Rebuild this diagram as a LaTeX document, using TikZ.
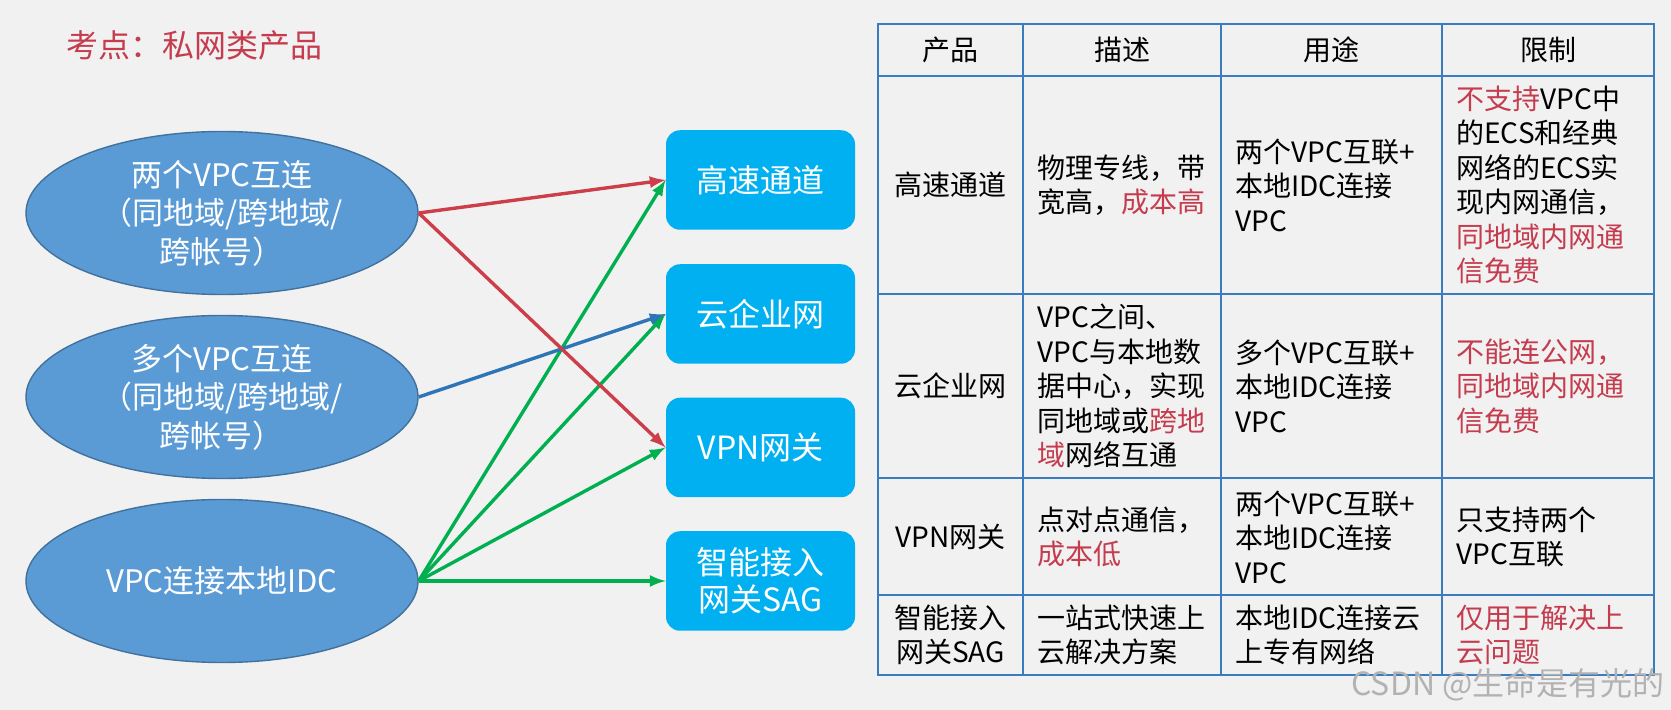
\documentclass[tikz,border=0pt]{standalone}
\usepackage{fontspec}
\setmainfont{Noto Sans CJK SC}
\usepackage{tikz}
\usetikzlibrary{shapes.geometric}
\usetikzlibrary{positioning}

\definecolor{pagebg}{RGB}{241,241,241}
\definecolor{ovalblue}{RGB}{91,155,213}
\definecolor{ovaledge}{RGB}{65,113,156}
\definecolor{boxblue}{RGB}{0,176,240}
\definecolor{keyred}{RGB}{196,60,78}
\definecolor{linkred}{RGB}{204,62,74}
\definecolor{linkblue}{RGB}{46,117,182}
\definecolor{linkgreen}{RGB}{0,176,80}
\definecolor{gridblue}{RGB}{58,124,192}
\newcommand{\hot}[1]{\textcolor{keyred}{#1}}

\tikzset{
  vpc/.style = {ellipse, fill=ovalblue, draw=ovaledge, line width=0.7pt,
    minimum width=196pt, minimum height=81.5pt, inner sep=0pt, text=white,
    align=center, font=\fontsize{15.5}{19.25}\selectfont},
  prod/.style = {rectangle, rounded corners=7pt, fill=boxblue,
    minimum width=94.5pt, minimum height=49.75pt, text=white,
    align=center, font=\fontsize{16}{18.5}\selectfont},
  link/.style = {-latex, line width=1.7pt},
  cellc/.style = {align=center, inner sep=0pt, font=\fontsize{14}{17.25}\selectfont},
  celll/.style = {anchor=west, align=left, inner sep=0pt, font=\fontsize{14}{17.25}\selectfont}
}

\begin{document}
\begin{tikzpicture}[x=0.5pt, y=-0.5pt]
        \fill[pagebg] (0,0) rectangle (1671,710);
        \useasboundingbox (0,0) rectangle (1671,710);
        \node[anchor=west, inner sep=0pt, text=keyred, font=\fontsize{16}{18}\selectfont] (title) at (66,45) {考点：私网类产品};

        \node[vpc] (twovpc) at (222,213) {两个VPC互连\\（同地域/跨地域/\\跨帐号）};
        \node[vpc] (multivpc) at (222,397) {多个VPC互连\\（同地域/跨地域/\\跨帐号）};
        \node[vpc] (idc) at (222,581) {VPC连接本地IDC};

        \node[prod] (express) at (760.5,180) {高速通道};
        \node[prod] (cen) at (760.5,314) {云企业网};
        \node[prod] (vpngw) at (760.5,447.5) {VPN网关};
        \node[prod] (sag) at (760.5,581) {智能接入\\网关SAG};

        \draw[link, linkgreen] (idc.east) -- (express.west);
        \draw[link, linkgreen] (idc.east) -- (cen.west);
        \draw[link, linkgreen] (idc.east) -- (vpngw.west);
        \draw[link, linkgreen] (idc.east) -- (sag.west);
        \draw[link, linkblue] (multivpc.east) -- (cen.west);
        \draw[link, linkred] (twovpc.east) -- (express.west);
        \draw[link, linkred] (twovpc.east) -- (vpngw.west);

        \draw[gridblue, line width=1pt] (878,24) rectangle (1654,675);
        \draw[gridblue, line width=1pt] (1023,24) -- (1023,675);
        \draw[gridblue, line width=1pt] (1221,24) -- (1221,675);
        \draw[gridblue, line width=1pt] (1442,24) -- (1442,675);
        \draw[gridblue, line width=1pt] (878,76) -- (1654,76);
        \draw[gridblue, line width=1pt] (878,294) -- (1654,294);
        \draw[gridblue, line width=1pt] (878,478) -- (1654,478);
        \draw[gridblue, line width=1pt] (878,595) -- (1654,595);

        \node[cellc] (hprod) at (950.5,50) {产品};
        \node[cellc] (hdesc) at (1122,50) {描述};
        \node[cellc] (huse) at (1331.5,50) {用途};
        \node[cellc] (hlim) at (1548,50) {限制};

        \node[cellc] (pexpress) at (950.5,185) {高速通道};
        \node[celll] (dexpress) at (1037,185) {物理专线，带\\宽高，\hot{成本高}};
        \node[celll] (uexpress) at (1235,185) {两个VPC互联+\\本地IDC连接\\VPC};
        \node[celll] (lexpress) at (1456,185) {\hot{不支持}VPC中\\的ECS和经典\\网络的ECS实\\现内网通信，\\\hot{同地域内网通}\\\hot{信免费}};

        \node[cellc] (pcen) at (950.5,386) {云企业网};
        \node[celll] (dcen) at (1037,386) {VPC之间、\\VPC与本地数\\据中心，实现\\同地域或\hot{跨地}\\\hot{域}网络互通};
        \node[celll] (ucen) at (1235,386) {多个VPC互联+\\本地IDC连接\\VPC};
        \node[celll] (lcen) at (1456,386) {\hot{不能连公网，}\\\hot{同地域内网通}\\\hot{信免费}};

        \node[cellc] (pvpngw) at (950.5,537) {VPN网关};
        \node[celll] (dvpngw) at (1037,537) {点对点通信，\\\hot{成本低}};
        \node[celll] (uvpngw) at (1235,537) {两个VPC互联+\\本地IDC连接\\VPC};
        \node[celll] (lvpngw) at (1456,537) {只支持两个\\VPC互联};

        \node[cellc] (psag) at (950.5,635) {智能接入\\网关SAG};
        \node[celll] (dsag) at (1037,635) {一站式快速上\\云解决方案};
        \node[celll] (usag) at (1235,635) {本地IDC连接云\\上专有网络};
        \node[celll] (lsag) at (1456,635) {\hot{仅用于解决上}\\\hot{云问题}};

        \node[inner sep=0pt, text=black!30, font=\fontsize{16}{18}\selectfont] (mark) at (1508,685) {CSDN @生命是有光的};
\end{tikzpicture}
\end{document}
